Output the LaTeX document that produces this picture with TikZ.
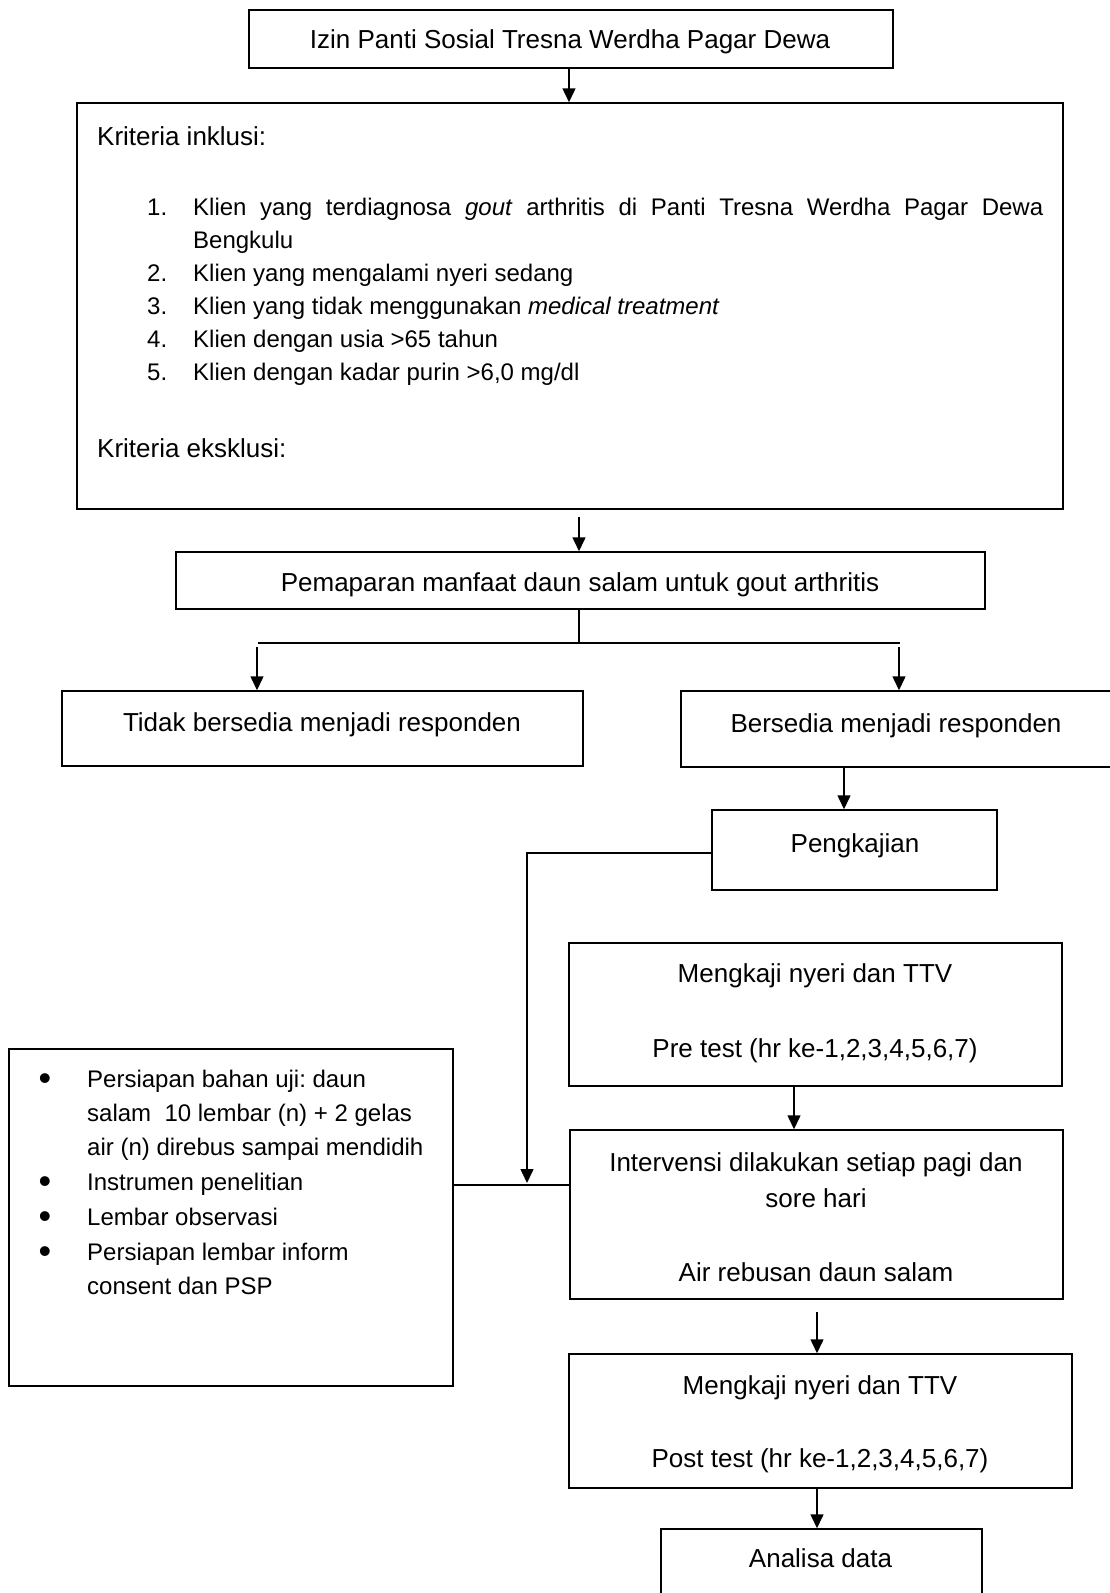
\documentclass[tikz,border=0pt]{standalone}
\usepackage{fontspec}
\setmainfont{Liberation Sans}
\usetikzlibrary{arrows.meta}
\frenchspacing
\begin{document}
\begin{tikzpicture}[x=1pt,y=-1pt,
  box/.style={draw=black, line width=1.5pt, rectangle, inner sep=0pt},
  txt/.style={anchor=base, inner sep=0pt, font=\fontsize{26}{31}\selectfont},
  ltxt/.style={txt, anchor=base west},
  stxt/.style={ltxt, font=\fontsize{24}{29}\selectfont},
  bul/.style={anchor=base, inner sep=0pt, font=\fontsize{36}{36}\selectfont},
  arr/.style={-{Triangle[length=14pt,width=13pt]}, line width=1.5pt},
  ln/.style={line width=1.5pt}]
\useasboundingbox (0,0) rectangle (1110,1593);
\clip (0,0) rectangle (1110,1593);
\fill[white] (0,0) rectangle (1110,1593);

% boxes
\node[box, minimum width=644pt, minimum height=58pt] (izin) at (571,39) {};
\node[box, minimum width=986pt, minimum height=406pt] (krit) at (570,306) {};
\node[box, minimum width=809pt, minimum height=57pt] (pem) at (580.5,580.5) {};
\node[box, minimum width=521pt, minimum height=75pt] (tidak) at (322.5,728.5) {};
\node[box, minimum width=439pt, minimum height=76pt] (bers) at (900.5,729) {};
\node[box, minimum width=285pt, minimum height=80pt] (peng) at (854.5,850) {};
\node[box, minimum width=493pt, minimum height=143pt] (pre) at (815.5,1014.5) {};
\node[box, minimum width=493pt, minimum height=169pt] (interv) at (816.5,1214.5) {};
\node[box, minimum width=503pt, minimum height=134pt] (post) at (820.5,1421) {};
\node[box, minimum width=321pt, minimum height=81pt] (anal) at (821.5,1569.5) {};
\node[box, minimum width=444pt, minimum height=337pt] (bahan) at (231,1217.5) {};

% texts
\node[txt] (tizin) at (570,48) {Izin Panti Sosial Tresna Werdha Pagar Dewa};
\node[ltxt] (tink) at (97,145) {Kriteria inklusi:};
\node[stxt] (n1) at (147,215) {1.};
\node[stxt] (i1a) at (193,215) {\makebox[850pt][s]{Klien yang terdiagnosa \textit{gout} arthritis di Panti Tresna Werdha Pagar Dewa}};
\node[stxt] (i1b) at (193,248) {Bengkulu};
\node[stxt] (n2) at (147,281) {2.};
\node[stxt] (i2) at (193,281) {Klien yang mengalami nyeri sedang};
\node[stxt] (n3) at (147,314) {3.};
\node[stxt] (i3) at (193,314) {Klien yang tidak menggunakan \textit{medical treatment}};
\node[stxt] (n4) at (147,347) {4.};
\node[stxt] (i4) at (193,347) {Klien dengan usia >65 tahun};
\node[stxt] (n5) at (147,380) {5.};
\node[stxt] (i5) at (193,380) {Klien dengan kadar purin >6,0 mg/dl};
\node[ltxt] (teks) at (97,457) {Kriteria eksklusi:};

\node[txt] (tpem) at (580,591) {Pemaparan manfaat daun salam untuk gout arthritis};
\node[txt] (ttidak) at (322,731) {Tidak bersedia menjadi responden};
\node[txt] (tbers) at (896,732) {Bersedia menjadi responden};
\node[txt] (tpeng) at (855,852) {Pengkajian};
\node[txt] (tpre1) at (815,982) {Mengkaji nyeri dan TTV};
\node[txt] (tpre2) at (815,1057) {Pre test (hr ke-1,2,3,4,5,6,7)};
\node[txt] (tint1) at (816,1171) {Intervensi dilakukan setiap pagi dan};
\node[txt] (tint2) at (816,1207) {sore hari};
\node[txt] (tint3) at (816,1281) {Air rebusan daun salam};
\node[txt] (tpost1) at (820,1394) {Mengkaji nyeri dan TTV};
\node[txt] (tpost2) at (820,1467) {Post test (hr ke-1,2,3,4,5,6,7)};
\node[txt] (tanal) at (820.5,1567) {Analisa data};

\node[bul] (b1) at (45,1090) {•};
\node[stxt] (k1) at (87,1087) {Persiapan bahan uji: daun};
\node[stxt] (k2) at (87,1121) {salam\ \ 10 lembar (n) + 2 gelas};
\node[stxt] (k3) at (87,1155) {air (n) direbus sampai mendidih};
\node[bul] (b2) at (45,1193) {•};
\node[stxt] (k4) at (87,1190) {Instrumen penelitian};
\node[bul] (b3) at (45,1228) {•};
\node[stxt] (k5) at (87,1225) {Lembar observasi};
\node[bul] (b4) at (45,1263) {•};
\node[stxt] (k6) at (87,1260) {Persiapan lembar inform};
\node[stxt] (k7) at (87,1294) {consent dan PSP};

% coordinates
\coordinate (a2) at (579,517);
\coordinate (spl) at (579,643);
\coordinate (splL) at (258,643);
\coordinate (splR) at (900,643);
\coordinate (aL) at (257,647);
\coordinate (aR) at (899,647);
\coordinate (a3) at (844,767);
\coordinate (corner) at (527,853);
\coordinate (join) at (527,1185);
\coordinate (a4) at (794,1086);
\coordinate (a5) at (817,1312);
\coordinate (a6) at (817,1488);

% connectors
\draw[arr] (izin.south -| 569,0) -- (569,0 |- krit.north);
\draw[arr] (a2) -- (a2 |- pem.north);
\draw[ln] (spl |- pem.south) -- (spl);
\draw[ln] (splL) -- (splR);
\draw[arr] (aL) -- (aL |- tidak.north);
\draw[arr] (aR) -- (aR |- bers.north);
\draw[arr] (a3) -- (a3 |- peng.north);
\draw[arr] (peng.west |- corner) -- (corner) -- ([yshift=2pt]join);
\draw[ln] (bahan.east |- join) -- (interv.west |- join);
\draw[arr] (a4) -- (a4 |- interv.north);
\draw[arr] (a5) -- (a5 |- post.north);
\draw[arr] (a6) -- (a6 |- anal.north);
\end{tikzpicture}
\end{document}
